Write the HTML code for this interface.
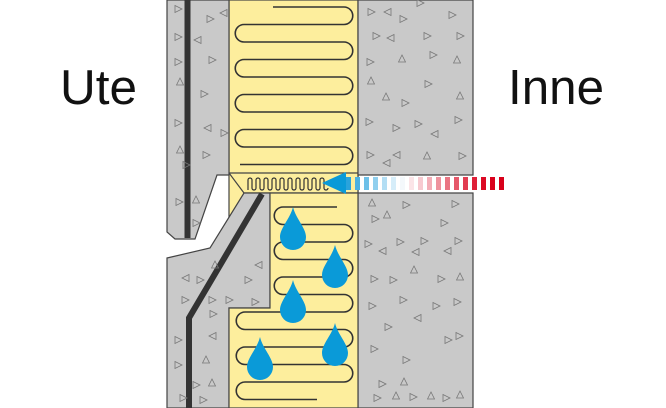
<!DOCTYPE html>
<html><head><meta charset="utf-8"><style>
html,body{margin:0;padding:0;background:#fff;width:666px;height:408px;overflow:hidden}
svg{display:block}
</style></head><body>
<svg width="666" height="408" viewBox="0 0 666 408" xmlns="http://www.w3.org/2000/svg">
<defs>
<path id="t" d="M-3,-3.5 L4,0 L-3,3.5 Z" fill="none" stroke="#777" stroke-width="0.8"/>
<path id="u" d="M-3.5,3 L0,-4 L3.5,3 Z" fill="none" stroke="#777" stroke-width="0.8"/>
<path id="l" d="M3,-3.5 L-4,0 L3,3.5 Z" fill="none" stroke="#777" stroke-width="0.8"/>
<path id="d" d="M0,-25 C3,-13 13,-4 13,5 A13,13 0 1 1 -13,5 C-13,-4 -3,-13 0,-25 Z" fill="#0a9ad8"/>
</defs>
<text x="60" y="104" font-family="Liberation Sans, sans-serif" font-size="49" textLength="77" lengthAdjust="spacingAndGlyphs" fill="#111">Ute</text>
<text x="508" y="104" font-family="Liberation Sans, sans-serif" font-size="49" textLength="96" lengthAdjust="spacingAndGlyphs" fill="#111">Inne</text>

<rect x="229" y="0" width="129" height="408" fill="#fdee9d" stroke="#444" stroke-width="1.2"/>
<path d="M229,173 H358 V193 H244 Z" fill="#fdee9d" stroke="#444" stroke-width="1.2"/>

<path d="M167,0 H229 V175 H217 L195,239 H175 L167,232 Z" fill="#c9c9c9" stroke="#444" stroke-width="1.2"/>
<path d="M167,258 L210,248 L244,193 H270 V308 H229 V408 H167 Z" fill="#c9c9c9" stroke="#444" stroke-width="1.2"/>
<path d="M358,0 H473 V175 H358 Z" fill="#c9c9c9" stroke="#444" stroke-width="1.2"/>
<path d="M358,193 H473 V408 H358 Z" fill="#c9c9c9" stroke="#444" stroke-width="1.2"/>
<path d="M270,193 H358 V408 H229 V308 H270 Z" fill="#fdee9d" stroke="#444" stroke-width="1.2"/>

<line x1="187.5" y1="0" x2="187.5" y2="238" stroke="#333" stroke-width="6"/>
<polyline points="262,194 189,318 189,408" fill="none" stroke="#333" stroke-width="6"/>

<path d="M273,7 H344 a8.75,8.75 0 0 1 0,17.5 H244 a8.75,8.75 0 0 0 0,17.5 H344 a8.75,8.75 0 0 1 0,17.5 H244 a8.75,8.75 0 0 0 0,17.5 H344 a8.75,8.75 0 0 1 0,17.5 H244 a8.75,8.75 0 0 0 0,17.5 H344 a8.75,8.75 0 0 1 0,17.5 H244 a8.75,8.75 0 0 0 0,17.5 H344 a8.75,8.75 0 0 1 0,17.5 H240" fill="none" stroke="#333" stroke-width="1.6"/>
<path d="M337,207 H283 a8.75,8.75 0 0 0 0,17.5 H344 a8.75,8.75 0 0 1 0,17.5 H283 a8.75,8.75 0 0 0 0,17.5 H344 a8.75,8.75 0 0 1 0,17.5 H283 a8.75,8.75 0 0 0 0,17.5 H344 a8.75,8.75 0 0 1 0,17.5 H245 a8.75,8.75 0 0 0 0,17.5 H344 a8.75,8.75 0 0 1 0,17.5 H245 a8.75,8.75 0 0 0 0,17.5 H344 a8.75,8.75 0 0 1 0,17.5 H245 a8.75,8.75 0 0 0 0,17.5 H317" fill="none" stroke="#333" stroke-width="1.6"/>
<path d="M248,190 V180 a2,2 0 0 1 4,0 V188 a2,2 0 0 0 4,0 V180 a2,2 0 0 1 4,0 V188 a2,2 0 0 0 4,0 V180 a2,2 0 0 1 4,0 V188 a2,2 0 0 0 4,0 V180 a2,2 0 0 1 4,0 V188 a2,2 0 0 0 4,0 V180 a2,2 0 0 1 4,0 V188 a2,2 0 0 0 4,0 V180 a2,2 0 0 1 4,0 V188 a2,2 0 0 0 4,0 V180 a2,2 0 0 1 4,0 V188 a2,2 0 0 0 4,0 V180 a2,2 0 0 1 4,0 V188 a2,2 0 0 0 4,0 V180 a2,2 0 0 1 4,0 V188 a2,2 0 0 0 4,0 V180 a2,2 0 0 1 4,0 V188 a2,2 0 0 0 4,0" fill="none" stroke="#333" stroke-width="1.2"/>

<g>
<use href="#t" x="178" y="9"/><use href="#t" x="210" y="19"/><use href="#l" x="224" y="13"/><use href="#t" x="178" y="37"/><use href="#l" x="198" y="40"/><use href="#t" x="178" y="62"/><use href="#u" x="180" y="82"/><use href="#t" x="212" y="60"/><use href="#t" x="204" y="94"/><use href="#t" x="178" y="123"/><use href="#l" x="208" y="128"/><use href="#t" x="224" y="133"/><use href="#u" x="180" y="150"/><use href="#t" x="206" y="155"/><use href="#t" x="179" y="202"/><use href="#u" x="196" y="200"/><use href="#t" x="186" y="165"/>
<use href="#l" x="186" y="278"/><use href="#t" x="200" y="280"/><use href="#t" x="248" y="280"/><use href="#l" x="259" y="265"/><use href="#t" x="185" y="300"/><use href="#t" x="212" y="300"/><use href="#t" x="229" y="300"/><use href="#t" x="255" y="302"/><use href="#t" x="178" y="340"/><use href="#l" x="213" y="336"/><use href="#t" x="178" y="365"/><use href="#u" x="206" y="360"/><use href="#t" x="196" y="385"/><use href="#u" x="212" y="383"/><use href="#t" x="183" y="398"/><use href="#t" x="203" y="400"/><use href="#u" x="215" y="265"/><use href="#t" x="196" y="223"/><use href="#t" x="213" y="314"/>
<use href="#t" x="371" y="12"/><use href="#l" x="388" y="12"/><use href="#t" x="403" y="19"/><use href="#t" x="420" y="3"/><use href="#t" x="452" y="15"/><use href="#t" x="376" y="36"/><use href="#l" x="391" y="38"/><use href="#t" x="427" y="36"/><use href="#t" x="460" y="36"/><use href="#t" x="370" y="62"/><use href="#u" x="402" y="59"/><use href="#t" x="433" y="55"/><use href="#u" x="457" y="60"/><use href="#u" x="371" y="81"/><use href="#t" x="428" y="84"/><use href="#u" x="386" y="97"/><use href="#t" x="405" y="103"/><use href="#u" x="460" y="96"/><use href="#t" x="369" y="122"/><use href="#t" x="396" y="128"/><use href="#t" x="418" y="124"/><use href="#l" x="435" y="134"/><use href="#t" x="458" y="120"/><use href="#t" x="370" y="155"/><use href="#l" x="397" y="155"/><use href="#u" x="427" y="156"/><use href="#t" x="462" y="156"/><use href="#l" x="387" y="163"/>
<use href="#u" x="372" y="203"/><use href="#t" x="406" y="205"/><use href="#t" x="455" y="204"/><use href="#t" x="375" y="219"/><use href="#u" x="387" y="215"/><use href="#t" x="444" y="223"/><use href="#t" x="368" y="244"/><use href="#t" x="400" y="242"/><use href="#t" x="424" y="241"/><use href="#t" x="458" y="241"/><use href="#l" x="383" y="251"/><use href="#l" x="416" y="252"/><use href="#l" x="448" y="251"/><use href="#u" x="414" y="270"/><use href="#t" x="374" y="279"/><use href="#t" x="393" y="280"/><use href="#t" x="441" y="279"/><use href="#u" x="460" y="277"/><use href="#t" x="372" y="306"/><use href="#t" x="403" y="300"/><use href="#t" x="436" y="306"/><use href="#t" x="457" y="302"/><use href="#t" x="388" y="327"/><use href="#l" x="418" y="318"/><use href="#t" x="448" y="340"/><use href="#t" x="374" y="349"/><use href="#t" x="406" y="360"/><use href="#t" x="459" y="336"/><use href="#t" x="382" y="384"/><use href="#u" x="404" y="382"/><use href="#t" x="377" y="398"/><use href="#u" x="396" y="396"/><use href="#t" x="413" y="397"/><use href="#u" x="431" y="396"/><use href="#t" x="446" y="398"/><use href="#u" x="460" y="395"/>
</g>

<use href="#d" x="293" y="232"/>
<use href="#d" x="335" y="270"/>
<use href="#d" x="293" y="305"/>
<use href="#d" x="335" y="348"/>
<use href="#d" x="260" y="362"/>

<g>
<rect x="346" y="177" width="5" height="13" fill="#2aa3dc"/>
<rect x="355" y="177" width="5" height="13" fill="#4bb1e2"/>
<rect x="364" y="177" width="5" height="13" fill="#6dc0e8"/>
<rect x="373" y="177" width="5" height="13" fill="#90cfee"/>
<rect x="382" y="177" width="5" height="13" fill="#b3def4"/>
<rect x="391" y="177" width="5" height="13" fill="#d6edf9"/>
<rect x="400" y="177" width="5" height="13" fill="#f4f8fb"/>
<rect x="409" y="177" width="5" height="13" fill="#fbe4e7"/>
<rect x="418" y="177" width="5" height="13" fill="#f7cad0"/>
<rect x="427" y="177" width="5" height="13" fill="#f3aeb7"/>
<rect x="436" y="177" width="5" height="13" fill="#ee929d"/>
<rect x="445" y="177" width="5" height="13" fill="#ea7583"/>
<rect x="454" y="177" width="5" height="13" fill="#e6586a"/>
<rect x="463" y="177" width="5" height="13" fill="#e23c51"/>
<rect x="472" y="177" width="5" height="13" fill="#df2038"/>
<rect x="481" y="177" width="5" height="13" fill="#dc0a24"/>
<rect x="490" y="177" width="5" height="13" fill="#da001c"/>
<rect x="499" y="177" width="5" height="13" fill="#d8001a"/>
<path d="M322,183 L346,172 V194 Z" fill="#0a9ad8"/>
<rect x="338" y="177" width="8" height="13" fill="#0a9ad8"/>
</g>
</svg>
</body></html>
